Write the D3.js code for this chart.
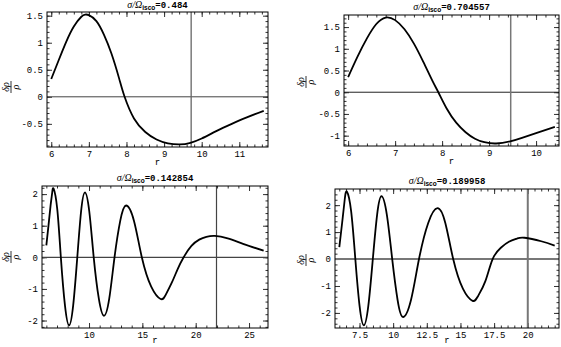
<!DOCTYPE html>
<html>
<head>
<meta charset="utf-8">
<script src="https://cdn.jsdelivr.net/npm/d3@7"></script>
<style>
  body { margin: 0; background: #fff; }
  svg { display: block; }
  .tick text { font-family: "Liberation Mono", monospace; font-size: 9px; fill: #000; }
  .domain { display: none; }
</style>
</head>
<body>
<script>
const width = 561, height = 347

// sigma / Omega_isco for each panel
const ratios = ["0.484", "0.704557", "0.142854", "0.189958"]

// r and delta rho / rho
const r1 = [6.0, 6.2, 6.4, 6.6, 6.8, 6.9, 7.0, 7.2, 7.4, 7.6, 7.8, 7.95, 8.2, 8.5, 8.8, 9.1, 9.42, 9.7, 10.0, 10.4, 10.8, 11.2, 11.65]
const v1 = [0.33, 0.68, 1.02, 1.30, 1.48, 1.52, 1.51, 1.40, 1.15, 0.80, 0.35, 0, -0.40, -0.65, -0.79, -0.86, -0.88, -0.85, -0.77, -0.63, -0.50, -0.38, -0.26]

const r2 = [6.0, 6.2, 6.4, 6.6, 6.8, 7.0, 7.2, 7.4, 7.6, 7.8, 7.92, 8.1, 8.3, 8.5, 8.7, 8.9, 9.15, 9.45, 9.7, 10.0, 10.4]
const v2 = [0.35, 0.82, 1.24, 1.57, 1.72, 1.66, 1.45, 1.12, 0.70, 0.25, 0, -0.38, -0.70, -0.92, -1.07, -1.15, -1.18, -1.13, -1.05, -0.94, -0.80]

const r3 = [6.0, 6.2, 6.4, 6.55, 6.68, 7.02, 7.36, 7.745, 8.13, 8.515, 8.90, 9.255, 9.61, 10.025, 10.44, 10.92, 11.40, 11.895, 12.39, 12.93, 13.47, 14.21, 14.95, 15.83, 16.71, 17.2, 17.79, 18.3, 18.87, 19.6, 20.33, 21.0, 21.8, 23.0, 24.5, 26.37]
const v3 = [0.38, 1.0, 1.65, 2.05, 2.17, 1.53, 0, -1.52, -2.15, -1.52, 0, 1.45, 2.05, 1.45, 0, -1.31, -1.85, -1.31, 0, 1.16, 1.64, 1.16, 0, -0.93, -1.32, -1.18, -0.78, -0.38, 0, 0.36, 0.56, 0.65, 0.68, 0.6, 0.42, 0.21]

const r4 = [6.0, 6.2, 6.4, 6.57, 6.88, 7.19, 7.505, 7.82, 8.155, 8.49, 8.81, 9.13, 9.53, 9.93, 10.33, 10.73, 11.325, 11.92, 12.605, 13.29, 13.875, 14.46, 15.18, 15.9, 16.3, 16.85, 17.39, 18.0, 18.6, 19.2, 19.76, 21.0, 22.0]
const v4 = [0.44, 1.3, 2.2, 2.5, 1.77, 0, -1.74, -2.46, -1.74, 0, 1.65, 2.33, 1.65, 0, -1.52, -2.15, -1.52, 0, 1.34, 1.89, 1.34, 0, -1.1, -1.55, -1.38, -0.82, 0, 0.42, 0.64, 0.76, 0.79, 0.66, 0.5]

// vertical marker in each panel
const vLines = [9.72, 9.46, 21.95, 20]

// tick labels
const xTicks1 = [6, 7, 8, 9, 10, 11], yTicks1 = [-0.5, 0, 0.5, 1, 1.5]
const xTicks2 = [6, 7, 8, 9, 10],     yTicks2 = [-1, -0.5, 0, 0.5, 1, 1.5]
const xTicks3 = [10, 15, 20, 25],     yTicks3 = [-2, -1, 0, 1, 2]
const xTicks4 = [7.5, 10, 12.5, 15, 17.5, 20], yTicks4 = [-2, -1, 0, 1, 2]

const svg = d3.select("body").append("svg")
    .attr("width", width)
    .attr("height", height)

const fmt = d => String(+d.toFixed(3))

const panels = [
  { r: r1, v: v1, vl: vLines[0], ratio: ratios[0], xt: xTicks1, yt: yTicks1, xm: 0.2, ym: 0.1,
    box: [47, 268, 12, 147], titleY: 8, rY: 165, yLab: [11, 87], vlColor: "#666", vlW: 1.3, zColor: "#444", zW: 1 },
  { r: r2, v: v2, vl: vLines[1], ratio: ratios[1], xt: xTicks2, yt: yTicks2, xm: 0.2, ym: 0.1,
    box: [344, 559, 15, 146], titleY: 10, rY: 164, yLab: [306, 82], vlColor: "#777", vlW: 1.5, zColor: "#222", zW: 1 },
  { r: r3, v: v3, vl: vLines[2], ratio: ratios[2], xt: xTicks3, yt: yTicks3, xm: 1, ym: 0.2,
    box: [42, 268, 186, 328], titleY: 181, rY: 343, yLab: [11, 257], vlColor: "#444", vlW: 1.2, zColor: "#444", zW: 1.2 },
  { r: r4, v: v4, vl: vLines[3], ratio: ratios[3], xt: xTicks4, yt: yTicks4, xm: 0.5, ym: 0.2,
    box: [335, 559, 189, 328], titleY: 184, rY: 343, yLab: [306, 260], vlColor: "#777", vlW: 2, zColor: "#777", zW: 2 }
]

panels.forEach(function(p){
  const xe = d3.extent(p.r), ye = d3.extent(p.v)
  const px = (xe[1] - xe[0]) * 0.02, py = (ye[1] - ye[0]) * 0.02
  const [x0, x1, y0, y1] = p.box

  const x = d3.scaleLinear().domain([xe[0] - px, xe[1] + px]).range([x0, x1])
  const y = d3.scaleLinear().domain([ye[0] - py, ye[1] + py]).range([y1, y0])

  const g = svg.append("g")

  const xMinor = d3.range(Math.ceil(x.domain()[0] / p.xm) * p.xm, x.domain()[1], p.xm)
  const yMinor = d3.range(Math.ceil(y.domain()[0] / p.ym) * p.ym, y.domain()[1], p.ym)

  // minor ticks, all four sides, pointing inward
  g.append("g").attr("transform", `translate(0,${y1})`)
    .call(d3.axisBottom(x).tickValues(xMinor).tickSize(-2.5).tickFormat(""))
  g.append("g").attr("transform", `translate(0,${y0})`)
    .call(d3.axisTop(x).tickValues(xMinor).tickSize(-2.5).tickFormat(""))
  g.append("g").attr("transform", `translate(${x0},0)`)
    .call(d3.axisLeft(y).tickValues(yMinor).tickSize(-2.5).tickFormat(""))
  g.append("g").attr("transform", `translate(${x1},0)`)
    .call(d3.axisRight(y).tickValues(yMinor).tickSize(-2.5).tickFormat(""))

  // major ticks
  g.append("g").attr("transform", `translate(0,${y1})`)
    .call(d3.axisBottom(x).tickValues(p.xt).tickSize(-5).tickPadding(4).tickFormat(fmt))
  g.append("g").attr("transform", `translate(0,${y0})`)
    .call(d3.axisTop(x).tickValues(p.xt).tickSize(-5).tickFormat(""))
  g.append("g").attr("transform", `translate(${x0},0)`)
    .call(d3.axisLeft(y).tickValues(p.yt).tickSize(-5).tickPadding(4).tickFormat(fmt))
  g.append("g").attr("transform", `translate(${x1},0)`)
    .call(d3.axisRight(y).tickValues(p.yt).tickSize(-5).tickFormat(""))

  g.selectAll(".tick line").attr("stroke", "#333")

  // zero line and marker line
  g.append("line")
    .attr("x1", x0).attr("x2", x1)
    .attr("y1", y(0)).attr("y2", y(0))
    .attr("stroke", p.zColor).attr("stroke-width", p.zW)
  g.append("line")
    .attr("x1", x(p.vl)).attr("x2", x(p.vl))
    .attr("y1", y0).attr("y2", y1)
    .attr("stroke", p.vlColor).attr("stroke-width", p.vlW)

  // curve
  const pts = p.r.map((d, i) => [d, p.v[i]])
  g.append("path")
    .datum(pts)
    .attr("fill", "none")
    .attr("stroke", "#000")
    .attr("stroke-width", 1.8)
    .attr("d", d3.line()
      .x(d => x(d[0]))
      .y(d => y(d[1]))
      .curve(d3.curveNatural))

  // frame
  g.append("rect")
    .attr("x", x0).attr("y", y0)
    .attr("width", x1 - x0).attr("height", y1 - y0)
    .attr("fill", "none").attr("stroke", "#000").attr("stroke-width", 1)

  // title
  const t = g.append("text")
    .attr("x", (x0 + x1) / 2).attr("y", p.titleY)
    .attr("text-anchor", "middle")
  t.append("tspan").attr("font-family", "Liberation Serif").attr("font-style", "italic")
    .attr("font-size", 10).text("σ/Ω")
  t.append("tspan").attr("font-family", "Liberation Sans").attr("font-weight", "bold")
    .attr("font-size", 6.5).attr("dy", 2).text("isco")
  t.append("tspan").attr("font-family", "Liberation Mono").attr("font-weight", "bold")
    .attr("font-size", 9).attr("dy", -2).text("=" + p.ratio)

  // x label
  g.append("text")
    .attr("x", (x0 + x1) / 2).attr("y", p.rY)
    .attr("text-anchor", "middle")
    .attr("font-family", "Liberation Mono").attr("font-size", 9)
    .text("r")

  // y label: fraction, rotated
  const yl = g.append("g")
    .attr("transform", `translate(${p.yLab[0]},${p.yLab[1]}) rotate(-90)`)
  yl.append("text").attr("y", -2).attr("text-anchor", "middle")
    .attr("font-family", "Liberation Serif").attr("font-style", "italic").attr("font-size", 10)
    .text("δρ")
  yl.append("line").attr("x1", -6).attr("x2", 6).attr("y1", 0).attr("y2", 0)
    .attr("stroke", "#000").attr("stroke-width", 0.8)
  yl.append("text").attr("y", 8).attr("text-anchor", "middle")
    .attr("font-family", "Liberation Serif").attr("font-style", "italic").attr("font-size", 10)
    .text("ρ")
})
</script>
</body>
</html>
